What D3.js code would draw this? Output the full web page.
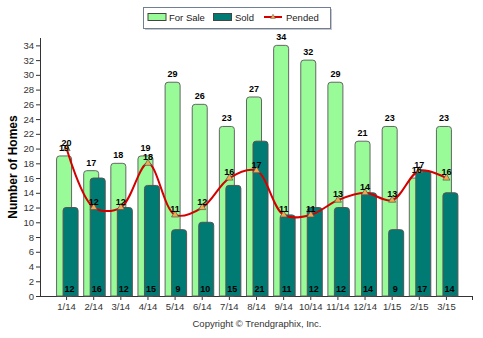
<!DOCTYPE html>
<html>
<head>
<meta charset="utf-8">
<script src="https://cdn.jsdelivr.net/npm/d3@7"></script>
<style>
  body { margin: 0; background: #fff; }
  svg { display: block; font-family: "Liberation Sans", Arial, sans-serif; }
</style>
</head>
<body>
<svg id="chart" width="483" height="338"></svg>
<script>
const months  = ['1/14','2/14','3/14','4/14','5/14','6/14','7/14','8/14','9/14','10/14','11/14','12/14','1/15','2/15','3/15']
const forSale = [19,17,18,19,29,26,23,27,34,32,29,21,23,16,23]
const sold    = [12,16,12,15,9,10,15,21,11,12,12,14,9,17,14]
const pended  = [20,12,12,18,11,12,16,17,11,11,13,14,13,17,16]
const yTicks  = d3.range(0, 35, 2)

const W = 483, H = 338
const AX_L = 40, AX_R = 473, Y0 = 296, Y_TOP = 38
const SALE_OFF = -10, SOLD_OFF = -3.5, BAR_W = 15

const svg = d3.select('#chart')

const x = d3.scaleBand().domain(months).range([53, 460])
const cx = m => x(m) + x.bandwidth() / 2
const y = d3.scaleLinear().domain([0, 35]).range([Y0, Y_TOP])

// bar with rounded top corners only
function barPath(x0, w, top, bottom){
  const r = Math.min(3, w/2, Math.max(0, bottom - top))
  return `M${x0},${bottom}V${top+r}Q${x0},${top} ${x0+r},${top}H${x0+w-r}Q${x0+w},${top} ${x0+w},${top+r}V${bottom}Z`
}

// axes
const yAxis = d3.axisLeft(y).tickValues(yTicks).tickSize(4).tickPadding(2)
const gy = svg.append('g').attr('transform', `translate(${AX_L},0)`).call(yAxis)
gy.select('.domain').remove()
gy.selectAll('.tick line').attr('stroke', '#333')
gy.selectAll('.tick text').attr('font-size', 9.5).attr('fill', '#333').attr('font-family', '"Liberation Sans", Arial, sans-serif')
svg.append('line').attr('x1', AX_L+0.5).attr('x2', AX_L+0.5).attr('y1', Y_TOP).attr('y2', Y0).attr('stroke', '#333')

const xAxis = d3.axisBottom(x).tickSize(4).tickPadding(3)
const gx = svg.append('g').attr('transform', `translate(0,${Y0})`).call(xAxis)
gx.select('.domain').remove()
gx.selectAll('.tick line').attr('stroke', '#333')
gx.selectAll('.tick text').attr('font-size', 9.5).attr('fill', '#333').attr('font-family', '"Liberation Sans", Arial, sans-serif')
svg.append('line').attr('x1', AX_L).attr('x2', AX_R).attr('y1', Y0+0.5).attr('y2', Y0+0.5).attr('stroke', '#333')
svg.append('line').attr('x1', AX_R-0.5).attr('x2', AX_R-0.5).attr('y1', Y0).attr('y2', Y0+4).attr('stroke', '#333')

// bars
const gBars = svg.append('g')
gBars.selectAll('path.sale').data(months).join('path').attr('class', 'sale')
  .attr('d', (m, i) => barPath(cx(m)+SALE_OFF, BAR_W, y(forSale[i]), Y0))
  .attr('fill', '#98fb98').attr('stroke', '#666').attr('stroke-width', 1)
gBars.selectAll('path.sold').data(months).join('path').attr('class', 'sold')
  .attr('d', (m, i) => barPath(cx(m)+SOLD_OFF, BAR_W, y(sold[i]), Y0))
  .attr('fill', '#007b73').attr('stroke', '#555').attr('stroke-width', 1)

// pended line
const line = d3.line().x(d => cx(d.m)).y(d => y(d.v)).curve(d3.curveCatmullRom.alpha(0.5))
const pts = months.map((m, i) => ({ m, v: pended[i] }))
svg.append('path').datum(pts).attr('d', line)
  .attr('fill', 'none').attr('stroke', '#d40000').attr('stroke-width', 2)
const tri = d3.symbol().type(d3.symbolTriangle).size(22)
svg.selectAll('path.mk').data(pts).join('path').attr('class', 'mk')
  .attr('transform', d => `translate(${cx(d.m)},${y(d.v)})`)
  .attr('d', tri).attr('fill', '#f5a94e').attr('stroke', '#555').attr('stroke-width', 0.7)

// value labels
const lbl = { 'font-size': 9, 'font-weight': 'bold', 'fill': '#000', 'text-anchor': 'middle' }
function labels(cls, vals, xf, yf){
  const t = svg.selectAll('text.'+cls).data(months).join('text').attr('class', cls)
    .attr('x', (m, i) => xf(m, i)).attr('y', (m, i) => yf(m, i)).text((m, i) => vals[i])
  Object.entries(lbl).forEach(([k, v]) => t.attr(k, v))
}
labels('lsale', forSale, m => cx(m)+SALE_OFF+BAR_W/2, (m, i) => y(forSale[i]) - 5)
labels('lsold', sold, m => cx(m)+SOLD_OFF+BAR_W/2 - 1, () => Y0 - 4)
labels('lpend', pended, m => cx(m), (m, i) => y(pended[i]) - 3)

// axis title
svg.append('text').attr('transform', 'translate(17,167) rotate(-90)')
  .attr('text-anchor', 'middle').attr('font-size', 12).attr('font-weight', 'bold').attr('fill', '#000')
  .text('Number of Homes')

// copyright
svg.append('text').attr('x', 257).attr('y', 327).attr('text-anchor', 'middle')
  .attr('font-size', 9.5).attr('fill', '#333').text('Copyright \u00a9 Trendgraphix, Inc.')

// legend
const lg = svg.append('g')
lg.append('rect').attr('x', 145).attr('y', 9).attr('width', 187).attr('height', 21).attr('fill', '#c8c8c8')
lg.append('rect').attr('x', 143.5).attr('y', 7.5).attr('width', 187).attr('height', 21)
  .attr('fill', '#fff').attr('stroke', '#6f7f95')
lg.append('rect').attr('x', 148).attr('y', 13.5).attr('width', 18).attr('height', 7)
  .attr('fill', '#98fb98').attr('stroke', '#444')
lg.append('text').attr('x', 169).attr('y', 21).attr('font-size', 9.5).attr('fill', '#222').text('For Sale')
lg.append('rect').attr('x', 213.5).attr('y', 13.5).attr('width', 18).attr('height', 7)
  .attr('fill', '#007b73').attr('stroke', '#444')
lg.append('text').attr('x', 235).attr('y', 21).attr('font-size', 9.5).attr('fill', '#222').text('Sold')
lg.append('line').attr('x1', 264).attr('x2', 282).attr('y1', 17).attr('y2', 17).attr('stroke', '#d40000').attr('stroke-width', 2)
lg.append('path').attr('transform', 'translate(273,17)').attr('d', d3.symbol().type(d3.symbolTriangle).size(10))
  .attr('fill', '#f5a94e').attr('stroke', '#555').attr('stroke-width', 0.5)
lg.append('text').attr('x', 286).attr('y', 21).attr('font-size', 9.5).attr('fill', '#222').text('Pended')
</script>
</body>
</html>
